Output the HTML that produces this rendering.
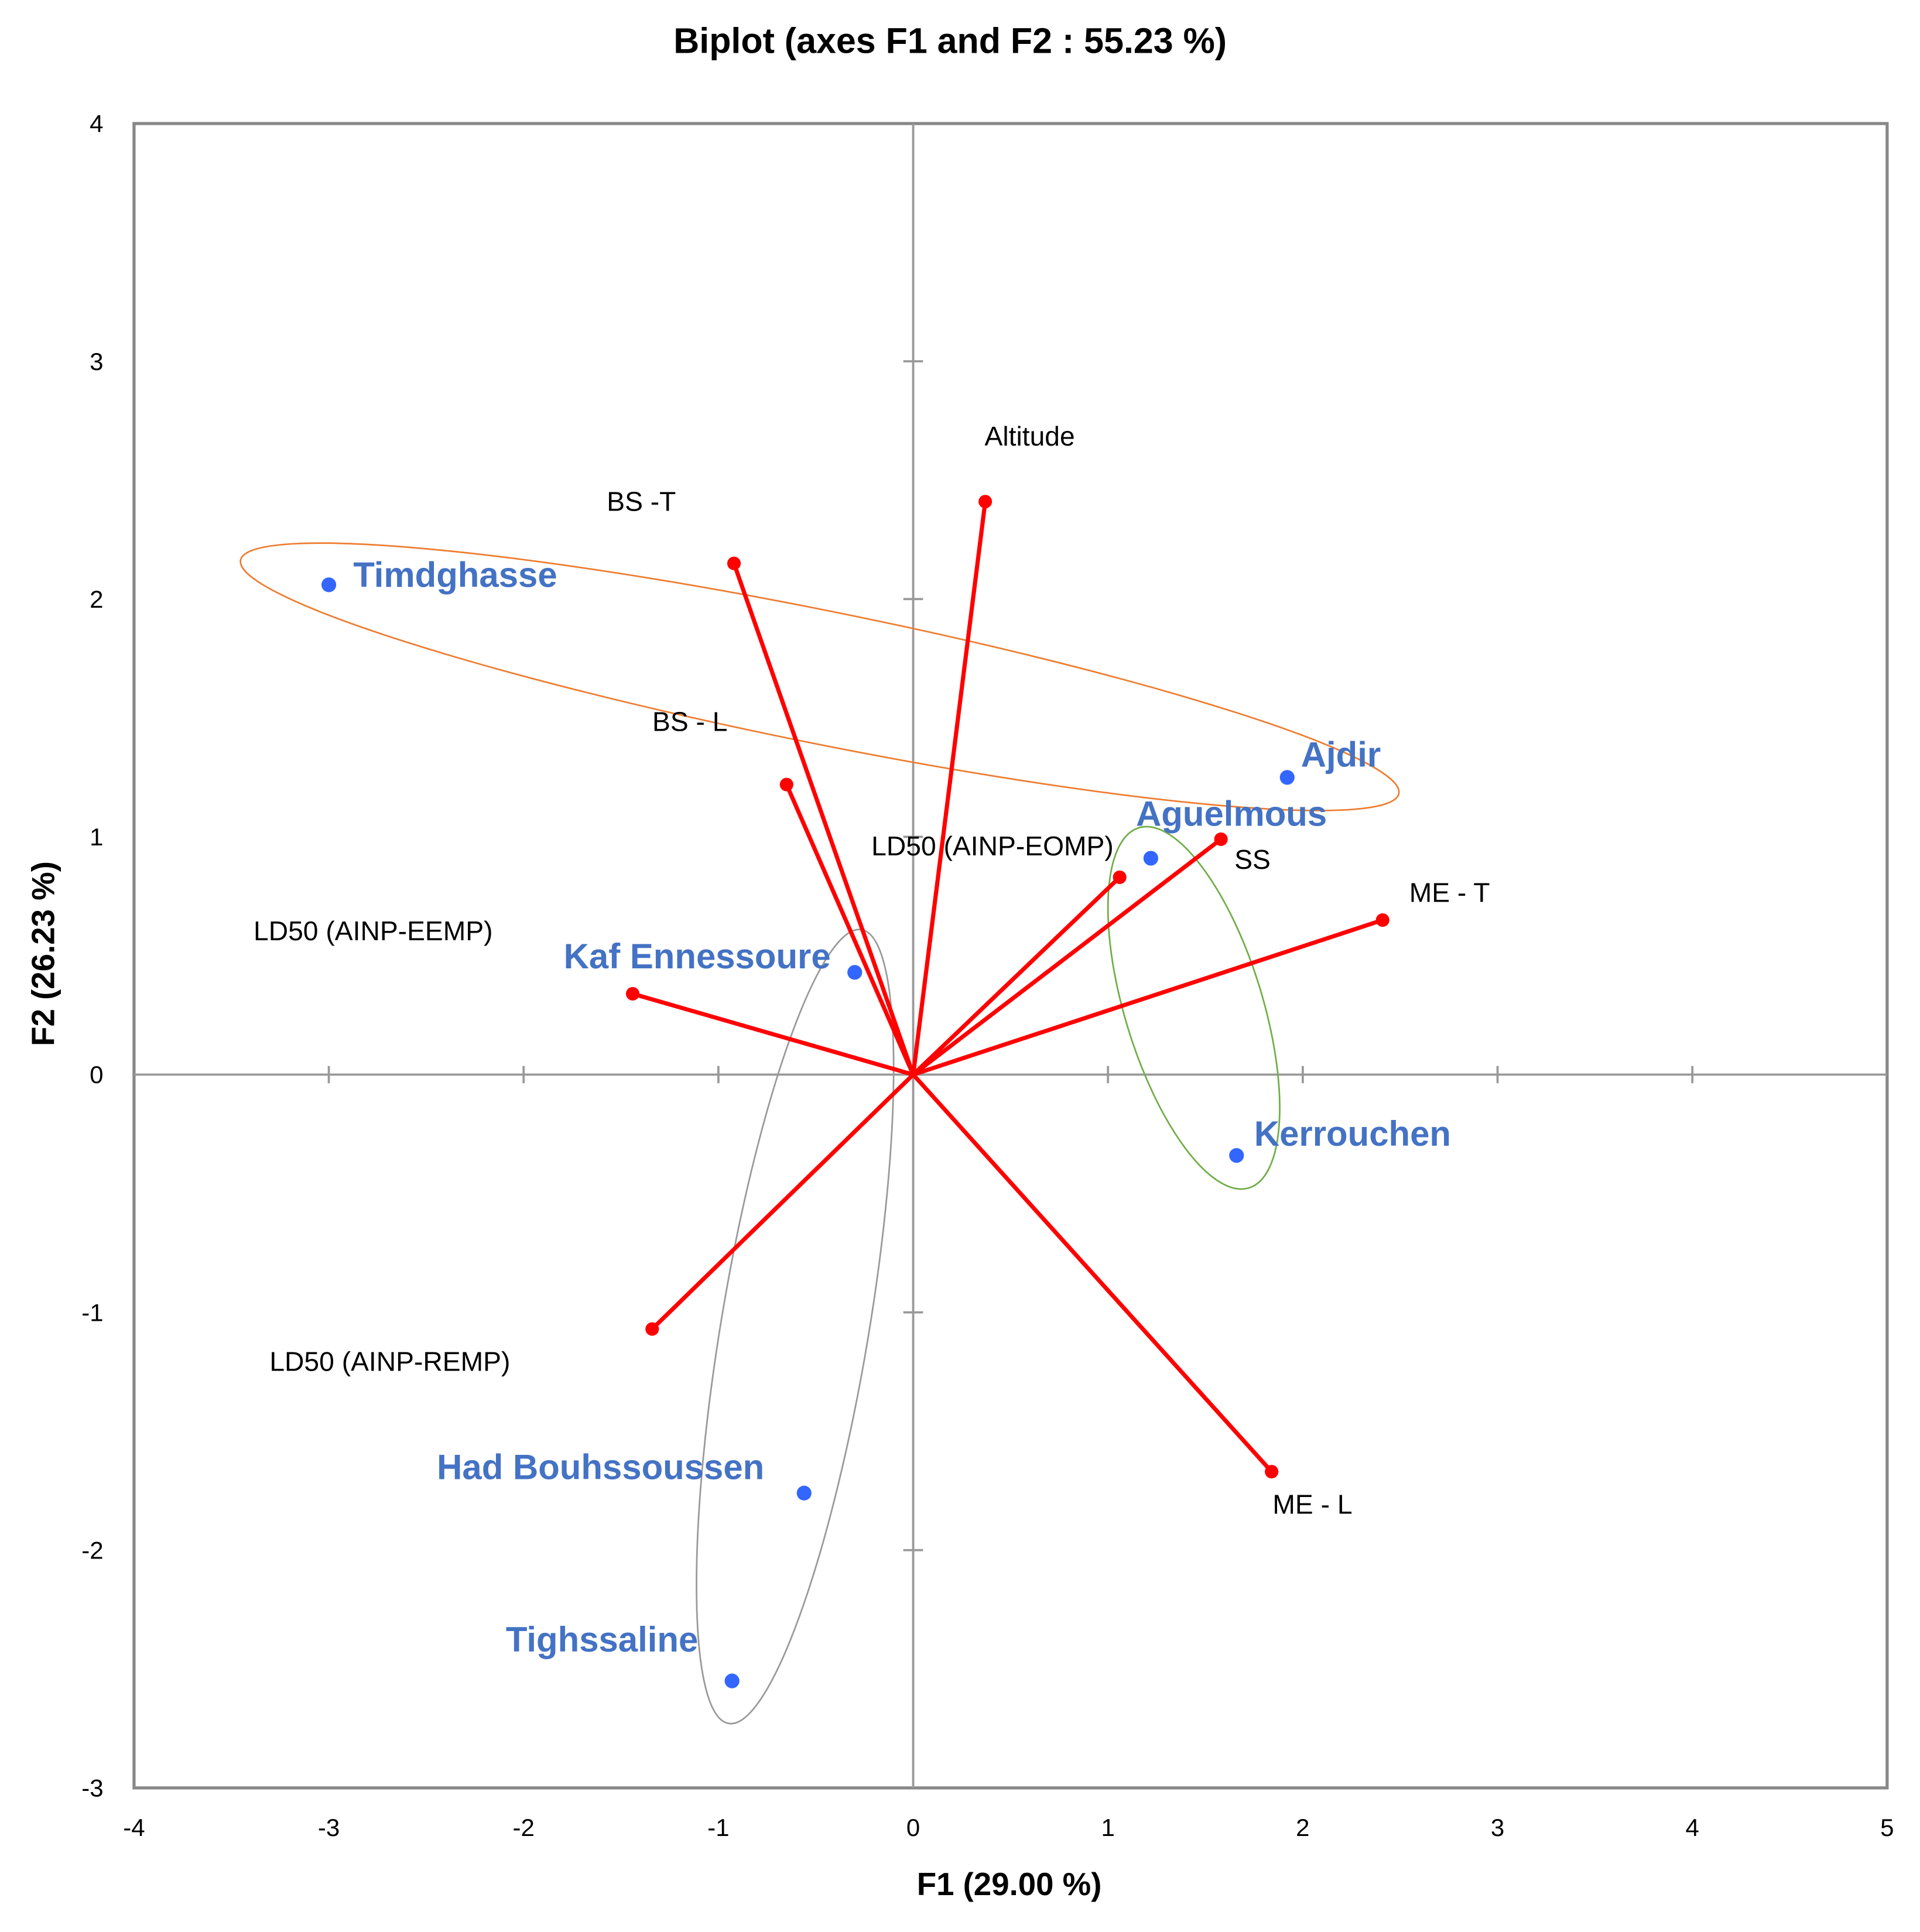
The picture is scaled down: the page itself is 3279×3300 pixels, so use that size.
<!DOCTYPE html>
<html><head><meta charset="utf-8"><style>
html,body{margin:0;padding:0;background:#fff;}
svg{display:block;}
text{font-family:"Liberation Sans",sans-serif;}
</style></head><body>
<svg id="chart" width="3279" height="3300" viewBox="0 0 1560 1570" xmlns="http://www.w3.org/2000/svg">
<text x="772" y="43" text-anchor="middle" font-size="29" font-weight="bold">Biplot (axes F1 and F2 : 55.23 %)</text>
<text x="820" y="1540" text-anchor="middle" font-size="26" font-weight="bold">F1 (29.00 %)</text>
<text transform="translate(44,775) rotate(-90)" text-anchor="middle" font-size="26" font-weight="bold">F2 (26.23 %)</text>
<g id="grid"></g>
<g id="ellipses"></g>
<g id="vectors"></g>
<g id="sites"></g>
<g id="labels"></g>
</svg>
<script>
const xTicks = [-4,-3,-2,-1,0,1,2,3,4,5];
const yTicks = [-3,-2,-1,0,1,2,3,4];
const varNames = ["Altitude","BS -T","BS - L","LD50 (AINP-EOMP)","SS","ME - T","LD50 (AINP-EEMP)","LD50 (AINP-REMP)","ME - L"];
const varX = [0.37,-0.92,-0.65,1.06,1.58,2.41,-1.44,-1.34,1.84];
const varY = [2.41,2.15,1.22,0.83,0.99,0.65,0.34,-1.07,-1.67];
const siteNames = ["Timdghasse","Ajdir","Aguelmous","Kaf Ennessoure","Kerrouchen","Had Bouhssoussen","Tighssaline"];
const siteX = [-3.0,1.92,1.22,-0.30,1.66,-0.56,-0.93];
const siteY = [2.06,1.25,0.91,0.43,-0.34,-1.76,-2.55];

const X0=108.9, X1=1533.3, Y0=100.4, Y1=1452.9;
const sx = v => X0 + (v+4)*(X1-X0)/9;
const sy = v => Y0 + (4-v)*(Y1-Y0)/7;
const NS="http://www.w3.org/2000/svg";
function mk(tag, attrs, parent, txt){const e=document.createElementNS(NS,tag);for(const k in attrs)e.setAttribute(k,attrs[k]);if(txt!==undefined)e.textContent=txt;parent.appendChild(e);return e;}

const grid=document.getElementById('grid');
let r=mk('rect',{x:X0,y:Y0,width:X1-X0,height:Y1-Y0,fill:'none',stroke:'#888',"stroke-width":2.5},grid);


let ax=mk('line',{x1:X0,x2:X1,y1:sy(0),y2:sy(0),stroke:'#999',"stroke-width":1.8},grid);


let ay=mk('line',{x1:sx(0),x2:sx(0),y1:Y0,y2:Y1,stroke:'#999',"stroke-width":1.8},grid);


xTicks.forEach(t=>{
  if(t>-4&&t<5){mk('line',{x1:sx(t),x2:sx(t),y1:sy(0)-7,y2:sy(0)+7,stroke:'#999',"stroke-width":1.8},grid);}
  const l=mk('text',{x:sx(t),y:1492,"text-anchor":"middle","font-size":20},grid,String(t));
  
  
});
yTicks.forEach(t=>{
  if(t>-3&&t<4){mk('line',{x1:sx(0)-8,x2:sx(0)+8,y1:sy(t),y2:sy(t),stroke:'#999',"stroke-width":1.8},grid);}
  const l=mk('text',{x:84,y:sy(t)+7,"text-anchor":"end","font-size":20},grid,String(t));
  
  
});

const eg=document.getElementById('ellipses');
let e1=mk('ellipse',{cx:666,cy:550,rx:480,ry:54,transform:'rotate(11.4 666 550)',fill:'none',stroke:'#ED7D31',"stroke-width":1.3},eg);


let e2=mk('ellipse',{cx:970,cy:819,rx:56,ry:153,transform:'rotate(-17 970 819)',fill:'none',stroke:'#70AD47',"stroke-width":1.3},eg);


let e3=mk('ellipse',{cx:646,cy:1078,rx:60,ry:327,transform:'rotate(9.5 646 1078)',fill:'none',stroke:'#999',"stroke-width":1.3},eg);



const vg=document.getElementById('vectors');
varNames.forEach((n,i)=>{
  const l=mk('line',{x1:sx(0),y1:sy(0),x2:sx(varX[i]),y2:sy(varY[i]),stroke:'#FF0000',"stroke-width":3.4},vg);
  
  
  const c=mk('circle',{cx:sx(varX[i]),cy:sy(varY[i]),r:5.5,fill:'#FF0000'},vg);
  
  
});
const sg=document.getElementById('sites');
siteNames.forEach((n,i)=>{
  const c=mk('circle',{cx:sx(siteX[i]),cy:sy(siteY[i]),r:6,fill:'#3366FF'},sg);
  
  
});

const lg=document.getElementById('labels');
const varLabelPos=[[800,354],[493,407],[530,586],[708,687],[1003,698],[1145,725],[206,756],[219,1106],[1034,1222]];
varNames.forEach((n,i)=>{
  const t=mk('text',{x:varLabelPos[i][0],y:varLabelPos[i][1]+8,"font-size":22,fill:'#000'},lg,n);
  
  
});
const siteLabelPos=[[287,467],[1057,613],[923,661],[458,777],[1019,921],[355,1192],[411,1332]];
siteNames.forEach((n,i)=>{
  const t=mk('text',{x:siteLabelPos[i][0],y:siteLabelPos[i][1]+10,"font-size":28.5,"font-weight":"bold",fill:'#4472C4'},lg,n);
  
  
});
</script>
</body></html>
